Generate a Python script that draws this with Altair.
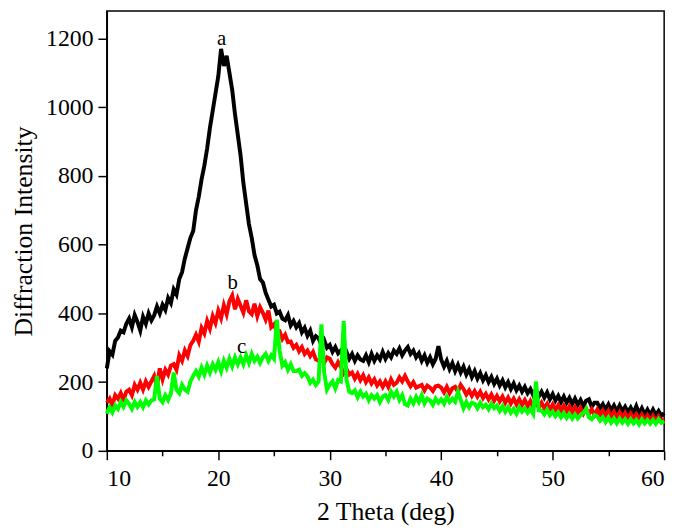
import altair as alt
import pandas as pd

# 2-theta grid (deg), 0.25 deg steps from 10 to 60
two_theta = [round(10 + 0.25 * i, 2) for i in range(201)]

# sample a (black)
a_vals = [
    240, 290, 280, 320,  330, 350, 345, 370,  385, 360, 395, 375,
    350, 390, 370, 400,  380, 395, 420, 400,  425, 410, 445, 430,
    470, 455, 500, 520,  560, 590, 620, 640,  700, 740, 790, 830,
    880, 940, 990, 1040, 1090, 1170, 1120, 1150, 1100, 1050, 980, 920,
    860, 780, 720, 660,  620, 570, 540, 500,  490, 460, 440, 420,
    425, 400, 405, 385,  380, 395, 365, 378,  360, 372, 345, 358,
    335, 350, 320, 334,  328, 308, 322, 300,  308, 288, 302, 284,
    292, 272, 288, 268,  282, 262, 278, 266,  262, 278, 258, 282,
    262, 278, 266, 288,  268, 284, 272, 292,  282, 298, 278, 292,
    302, 282, 292, 272,  284, 262, 278, 256,  272, 252, 268, 305,
    265, 245, 262, 238,  255, 232, 250, 228,  245, 222, 238, 215,
    232, 210, 226, 205,  220, 200, 215, 195,  210, 190, 205, 185,
    200, 180, 196, 176,  190, 172, 186, 168,  180, 162, 178, 158,
    172, 155, 170, 150,  165, 146, 160, 142,  158, 140, 154, 136,
    152, 134, 148, 130,  146, 150, 128, 140,  140, 124, 136, 120,
    135, 118, 132, 115,  132, 115, 128, 112,  126, 110, 130, 108,
    124, 106, 120, 104,  120, 104, 116, 102,  110,
]

# sample b (red)
b_vals = [
    140, 152, 132, 162,  152, 168, 148, 172,  178, 162, 192, 178,
    198, 178, 202, 186,  202, 218, 188, 240,  208, 236, 222, 248,
    252, 236, 278, 262,  292, 276, 308, 320,  338, 318, 358, 342,
    378, 356, 392, 372,  408, 386, 424, 398,  436, 452, 412, 442,
    422, 402, 438, 406,  398, 428, 392, 418,  402, 382, 408, 360,
    368, 346, 348, 326,  338, 316, 318, 300,  308, 290, 302, 282,
    292, 276, 288, 266,  262, 278, 256, 272,  268, 252, 242, 258,
    244, 226, 238, 222,  228, 210, 224, 206,  220, 200, 214, 196,
    208, 190, 202, 186,  202, 186, 208, 192,  198, 214, 202, 218,
    202, 188, 200, 184,  188, 192, 176, 190,  184, 174, 188, 190,
    184, 170, 186, 168,  182, 186, 172, 192,  180, 164, 176, 160,
    174, 158, 172, 154,  166, 150, 164, 146,  160, 144, 158, 140,
    155, 138, 152, 135,  150, 134, 148, 130,  145, 128, 142, 126,
    140, 124, 137, 120,  135, 119, 133, 116,  131, 115, 129, 112,
    127, 111, 125, 108,  123, 107, 121, 104,  120, 103, 117, 100,
    116, 99, 113, 96,    112, 95, 110, 93,    108, 92, 106, 90,
    105, 89, 103, 88,    102, 86, 100, 85,    92,
]

# sample c (green)
c_vals = [
    108, 127, 112, 132,  122, 142, 128, 147,  137, 122, 142, 128,
    142, 127, 147, 135,  147, 150, 218, 152,  142, 162, 148, 167,
    228, 178, 168, 192,  178, 172, 202, 218,  232, 216, 242, 222,
    248, 228, 252, 236,  258, 232, 262, 242,  268, 246, 272, 252,
    272, 252, 278, 256,  282, 262, 274, 256,  272, 282, 262, 278,
    268, 382, 292, 248,  258, 236, 252, 232,  232, 236, 218, 226,
    217, 198, 207, 192,  202, 368, 228, 178,  192, 202, 182, 206,
    202, 378, 208, 172,  168, 176, 156, 172,  158, 166, 147, 162,
    152, 162, 142, 158,  162, 148, 172, 158,  172, 148, 162, 136,
    132, 152, 138, 157,  142, 162, 138, 152,  147, 134, 152, 140,
    150, 137, 157, 142,  152, 143, 172, 148,  124, 142, 127, 140,
    137, 124, 140, 127,  134, 121, 137, 124,  132, 116, 130, 114,
    127, 111, 122, 108,  127, 114, 124, 111,  122, 108, 202, 118,
    117, 106, 120, 104,  114, 101, 112, 98,   110, 96, 107, 94,
    106, 94, 104, 110,   122, 98, 92, 104,    100, 88, 98, 84,
    97, 82, 94, 80,      94, 82, 92, 79,      92, 80, 90, 77,
    92, 80, 90, 79,      90, 79, 92, 82,      86,
]

samples = ["a", "b", "c"]
sample_colors = ["#000000", "#ff0000", "#00ff00"]

# curve labels
label_text = ["a", "b", "c"]
label_x = [20.3, 21.3, 22.1]
label_y = [1200, 489, 302]

df = pd.DataFrame({
    "two_theta": two_theta * 3,
    "intensity": a_vals + b_vals + c_vals,
    "sample": ["a"] * len(a_vals) + ["b"] * len(b_vals) + ["c"] * len(c_vals),
})
labels_df = pd.DataFrame({"t": label_text, "x": label_x, "y": label_y})

FONT = "Liberation Serif"
x_scale = alt.Scale(domain=[10, 60], nice=False)
y_scale = alt.Scale(domain=[0, 1280], nice=False)

x_axis = alt.Axis(
    values=list(range(10, 61, 5)),
    labelExpr="datum.value % 10 === 0 ? datum.label : ''",
    tickSize={"condition": {"test": "datum.value % 10 === 0", "value": 9}, "value": 5},
    labelPadding=7,
    titlePadding=9,
    title="2 Theta (deg)",
)
y_axis = alt.Axis(
    values=list(range(0, 1201, 100)),
    format="d",
    labelExpr="datum.value % 200 === 0 ? datum.label : ''",
    tickSize={"condition": {"test": "datum.value % 200 === 0", "value": 9}, "value": 5},
    labelPadding=5,
    titlePadding=9,
    title="Diffraction Intensity",
)

lines = alt.Chart(df).mark_line(strokeWidth=4, strokeJoin="miter").encode(
    x=alt.X("two_theta:Q", scale=x_scale, axis=x_axis),
    y=alt.Y("intensity:Q", scale=y_scale, axis=y_axis),
    color=alt.Color("sample:N", scale=alt.Scale(domain=samples, range=sample_colors), legend=None),
    order=alt.Order("two_theta:Q"),
    detail="sample:N",
)

texts = alt.Chart(labels_df).mark_text(font=FONT, fontSize=21, color="black", baseline="middle").encode(
    x=alt.X("x:Q", scale=x_scale),
    y=alt.Y("y:Q", scale=y_scale),
    text="t:N",
)

chart = alt.layer(lines, texts).properties(
    width=564,
    height=445,
    padding={"left": 3, "top": 0, "right": 5, "bottom": 3},
).configure_view(
    stroke="black", strokeWidth=1.5
).configure_axis(
    grid=False,
    domainColor="black",
    domainWidth=1.5,
    tickColor="black",
    tickWidth=1.5,
    labelFont=FONT,
    labelFontSize=24,
    labelColor="black",
    titleFont=FONT,
    titleFontSize=26,
    titleFontWeight="normal",
    titleColor="black",
)

chart.save("out.html", embed_options={"renderer": "svg", "actions": False})
